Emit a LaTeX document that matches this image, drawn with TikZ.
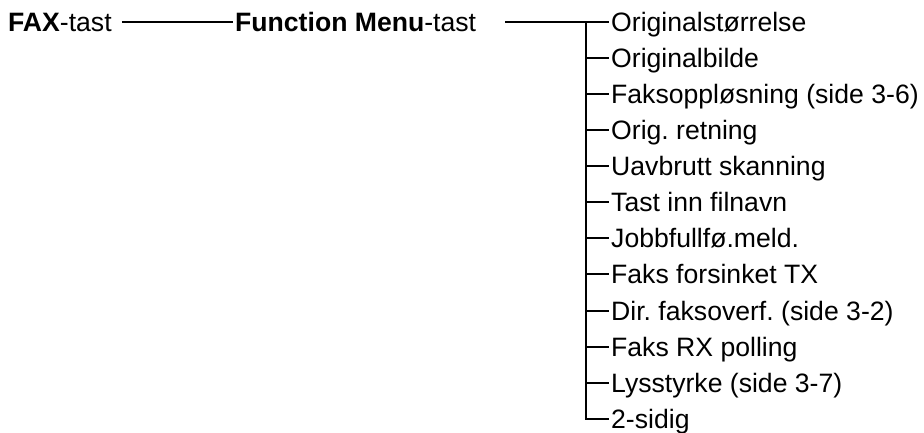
\documentclass[tikz,border=0pt]{standalone}
\usepackage{fontspec}
\setmainfont{Liberation Sans}
\frenchspacing
\begin{document}
\begin{tikzpicture}[x=1pt,y=1pt,
  lbl/.style={font=\fontsize{26.6pt}{30pt}\selectfont, inner sep=0pt, text height=19pt, text depth=0pt, anchor=west},
  conn/.style={line width=2pt, line join=miter}]
\useasboundingbox[fill=white] (0,0) rectangle (924,-432);
\node[lbl] (fax) at (8,-22.2) {\textbf{FAX}-tast};
\node[lbl] (fm) at (235,-22.2) {\textbf{Function Menu}-tast};
\coordinate (j) at (586,-22.2);
\foreach \t [count=\i from 0] in {Originalstørrelse,Originalbilde,Faksoppløsning (side 3-6),Orig. retning,Uavbrutt skanning,Tast inn filnavn,Jobbfullfø.meld.,Faks forsinket TX,Dir. faksoverf. (side 3-2),Faks RX polling,Lysstyrke (side 3-7),2-sidig}{
  \node[lbl] (i\i) at (611,{-22.2-36.04*\i}) {\t};
}
\draw[conn] ([xshift=10pt]fax.east) -- ([xshift=-2pt]fm.west);
\draw[conn] ([xshift=29pt]fm.east) -- ([xshift=-2pt]i0.west);
\draw[conn] (j) |- ([xshift=-2pt]i11.west);
\foreach \i in {1,...,10}{
  \draw[conn] (j |- i\i.west) -- ([xshift=-2pt]i\i.west);
}
\end{tikzpicture}
\end{document}
